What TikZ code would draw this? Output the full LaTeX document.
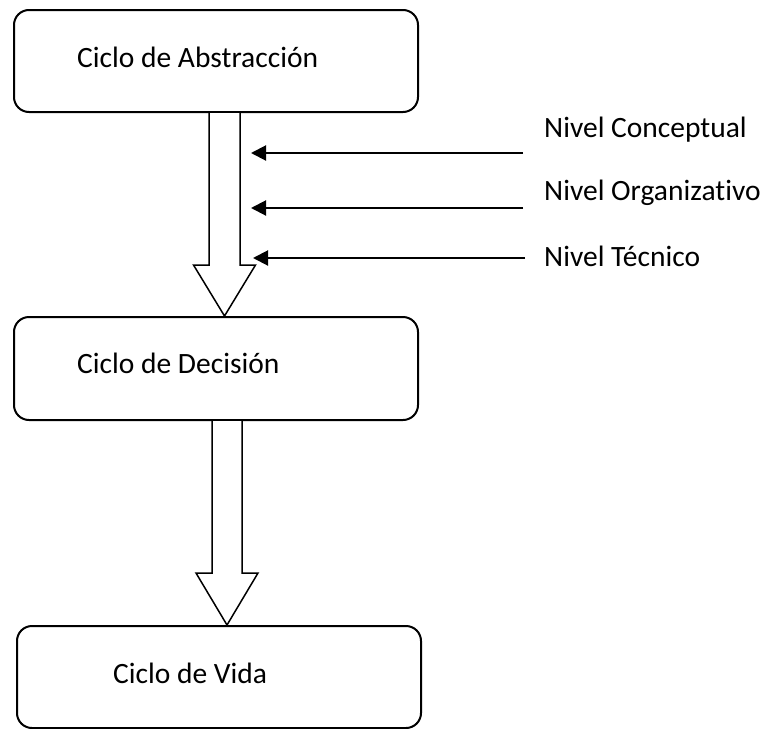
\documentclass[tikz,border=0pt]{standalone}
\usepackage{fontspec}
\setmainfont{Carlito}[Ligatures=NoCommon]
\usetikzlibrary{arrows.meta,calc}
\begin{document}
\begin{tikzpicture}[x=1pt,y=-1pt,
  cyclebox/.style={draw=black, line width=2pt, rounded corners=15pt, anchor=north west, inner sep=0pt},
  boxtext/.style={anchor=base west, inner sep=0pt, font=\fontsize{29.5}{34}\selectfont},
  leveltext/.style={anchor=base west, inner sep=0pt, font=\fontsize{29.5}{34}\selectfont},
  hollowarrow/.style={draw=black, line width=1.5pt, line join=miter, fill=white},
  feed/.style={draw=black, line width=2pt, -{Triangle[length=15pt,width=15pt]}}]
  \useasboundingbox (0,0) rectangle (765,728);

  % the three cycles
  \node[cyclebox, minimum width=404pt, minimum height=102pt] (abs) at (13,9) {};
  \node[cyclebox, minimum width=404pt, minimum height=103pt] (dec) at (13,316) {};
  \node[cyclebox, minimum width=404pt, minimum height=102pt] (vida) at (16,625) {};

  \node[boxtext] (tabs) at (77,67) {Ciclo de Abstracción};
  \node[boxtext] (tdec) at (77,373) {Ciclo de Decisión};
  \node[boxtext] (tvida) at (113,683) {Ciclo de Vida};

  % hollow block arrows between the cycles
  \coordinate (s1) at (abs.south -| 224.5,0);
  \coordinate (e1) at (dec.north -| 224.5,0);
  \coordinate (s2) at (dec.south -| 227,0);
  \coordinate (e2) at (vida.north -| 227,0);
  \draw[hollowarrow] let \p1=(s1), \p2=(e1) in
    (\x1-15.5pt,\y1) -- (\x1-15.5pt,\y2+51pt) -- (\x1-31pt,\y2+51pt) -- (\x2,\y2)
    -- (\x1+31pt,\y2+51pt) -- (\x1+15.5pt,\y2+51pt) -- (\x1+15.5pt,\y1);
  \draw[hollowarrow] let \p1=(s2), \p2=(e2) in
    (\x1-15pt,\y1) -- (\x1-15pt,\y2+52pt) -- (\x1-31pt,\y2+52pt) -- (\x2,\y2)
    -- (\x1+31pt,\y2+52pt) -- (\x1+15pt,\y2+52pt) -- (\x1+15pt,\y1);

  % levels feeding the abstraction cycle
  \node[leveltext] (nc) at (544,137) {Nivel Conceptual};
  \node[leveltext] (no) at (544,200) {Nivel Organizativo};
  \node[leveltext] (nt) at (544,266) {Nivel Técnico};

  \coordinate (fc) at (523,153);
  \coordinate (hc) at (251,153);
  \coordinate (fo) at (523,208);
  \coordinate (ho) at (251,208);
  \coordinate (ft) at (525,258);
  \coordinate (ht) at (253,258);
  \draw[feed] (fc) -- (hc);
  \draw[feed] (fo) -- (ho);
  \draw[feed] (ft) -- (ht);
\end{tikzpicture}
\end{document}
